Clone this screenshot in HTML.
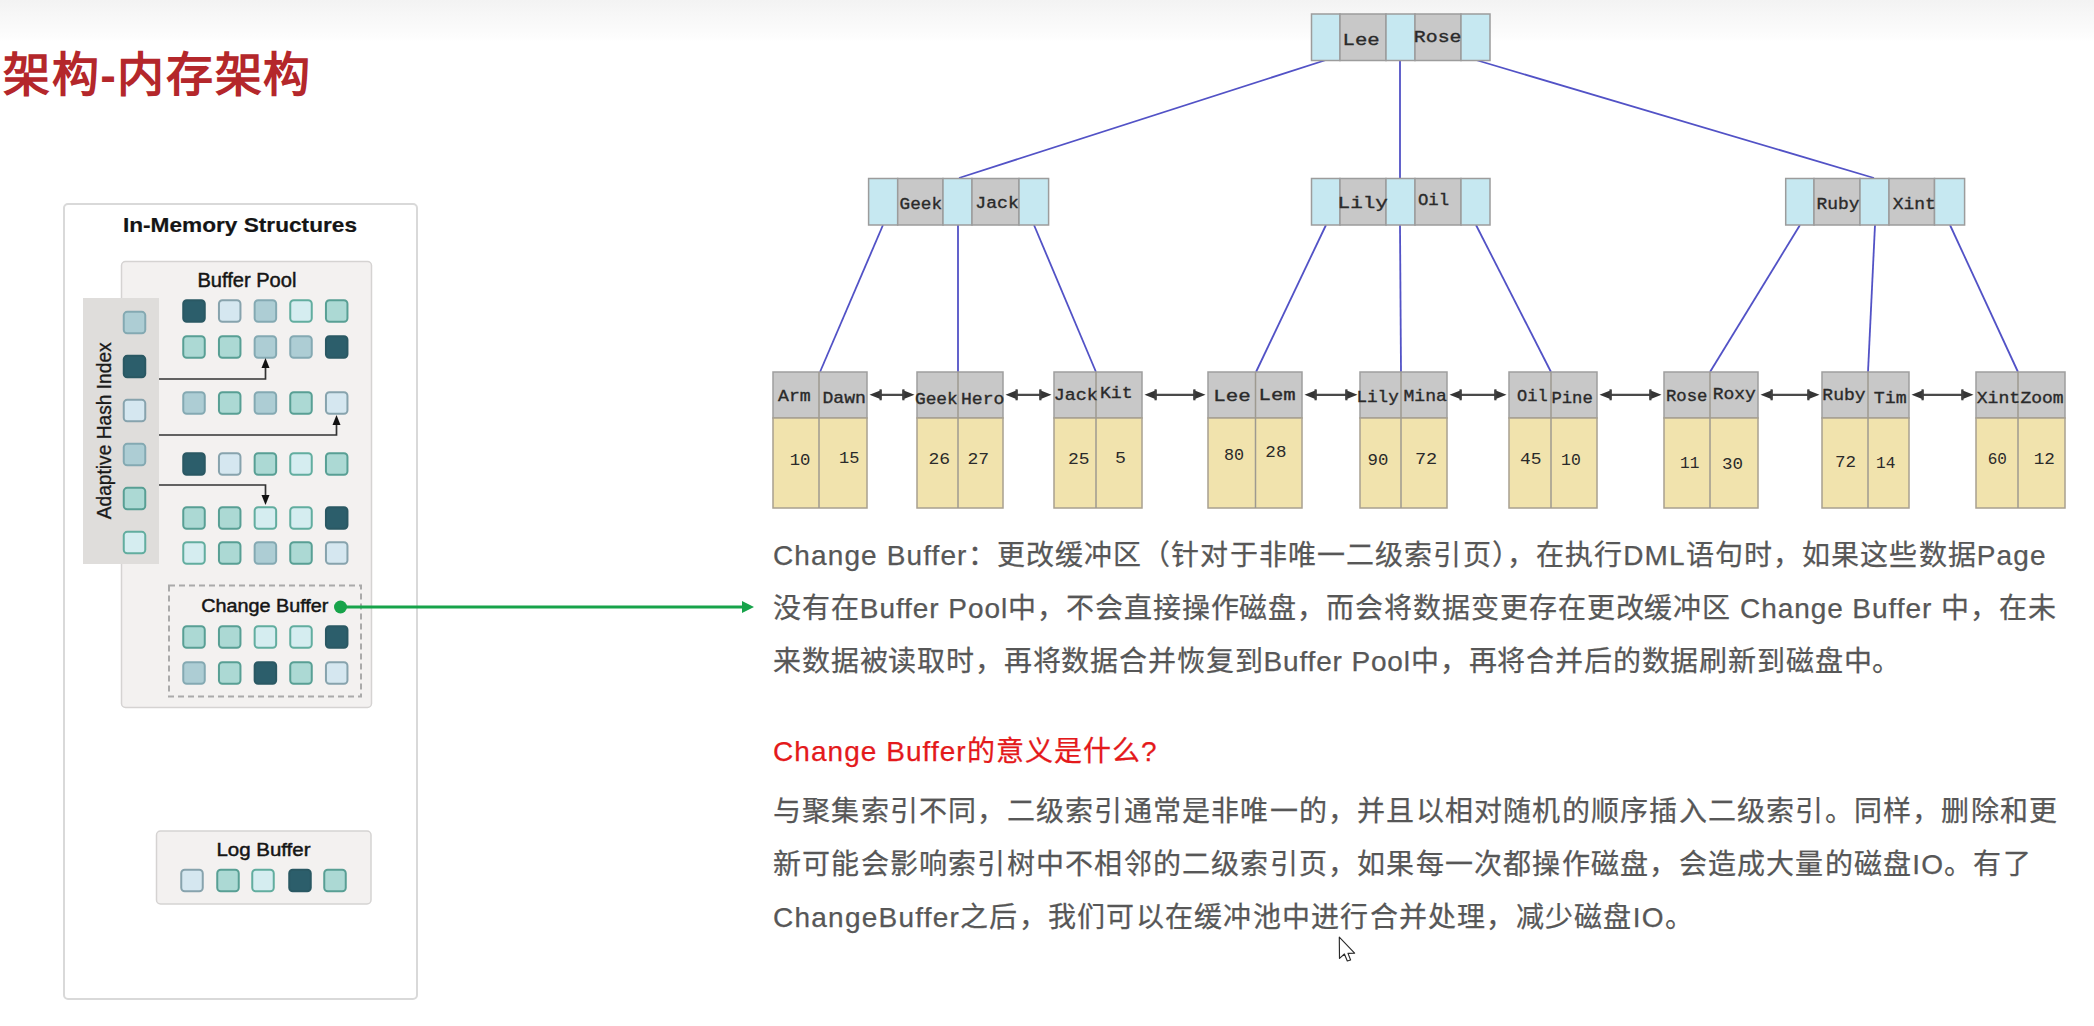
<!DOCTYPE html>
<html lang="zh-CN"><head><meta charset="utf-8"><title>架构-内存架构</title>
<style>
html,body{margin:0;padding:0;background:#fff;}
body{width:2094px;height:1026px;position:relative;overflow:hidden;font-family:"Liberation Sans",sans-serif;}
.topbar{position:absolute;left:0;top:0;width:2094px;height:42px;background:linear-gradient(#f3f3f3,#fdfdfd 90%,#ffffff);}
.title{position:absolute;left:3px;top:42.5px;letter-spacing:1.58px;font-size:47px;font-weight:bold;color:#b4272b;line-height:64px;white-space:nowrap;}
.ln{position:absolute;left:773px;font-size:28px;line-height:40px;color:#575757;white-space:nowrap;-webkit-text-stroke-width:0.25px;}
.red{color:#e4191b;}
</style></head><body>
<div class="topbar"></div>
<div class="title">架构-内存架构</div>
<svg width="2094" height="1026" viewBox="0 0 2094 1026" style="position:absolute;left:0;top:0"><rect x="64" y="204" width="353" height="795" rx="4" fill="#ffffff" stroke="#d9d9d9" stroke-width="2"/><rect x="121.5" y="261.5" width="250" height="446" rx="4" fill="#f3f1f0" stroke="#d5d3d2" stroke-width="1.5"/><rect x="83" y="298" width="76" height="266" fill="#dfdddb"/><rect x="183.25" y="300.25" width="21.5" height="21.5" rx="3.5" fill="#2c5e6b" stroke="#2a5863" stroke-width="2"/><rect x="218.95" y="300.25" width="21.5" height="21.5" rx="3.5" fill="#d5e7f0" stroke="#87a3ad" stroke-width="2"/><rect x="254.65" y="300.25" width="21.5" height="21.5" rx="3.5" fill="#adcdd4" stroke="#84a9b2" stroke-width="2"/><rect x="290.25" y="300.25" width="21.5" height="21.5" rx="3.5" fill="#d5edf0" stroke="#62ad9f" stroke-width="2"/><rect x="325.95" y="300.25" width="21.5" height="21.5" rx="3.5" fill="#acd9d4" stroke="#589f94" stroke-width="2"/><rect x="183.25" y="336.25" width="21.5" height="21.5" rx="3.5" fill="#acd9d4" stroke="#589f94" stroke-width="2"/><rect x="218.95" y="336.25" width="21.5" height="21.5" rx="3.5" fill="#acd9d4" stroke="#589f94" stroke-width="2"/><rect x="254.65" y="336.25" width="21.5" height="21.5" rx="3.5" fill="#adcdd4" stroke="#84a9b2" stroke-width="2"/><rect x="290.25" y="336.25" width="21.5" height="21.5" rx="3.5" fill="#adcdd4" stroke="#84a9b2" stroke-width="2"/><rect x="325.95" y="336.25" width="21.5" height="21.5" rx="3.5" fill="#2c5e6b" stroke="#2a5863" stroke-width="2"/><rect x="183.25" y="392.25" width="21.5" height="21.5" rx="3.5" fill="#adcdd4" stroke="#84a9b2" stroke-width="2"/><rect x="218.95" y="392.25" width="21.5" height="21.5" rx="3.5" fill="#acd9d4" stroke="#589f94" stroke-width="2"/><rect x="254.65" y="392.25" width="21.5" height="21.5" rx="3.5" fill="#adcdd4" stroke="#84a9b2" stroke-width="2"/><rect x="290.25" y="392.25" width="21.5" height="21.5" rx="3.5" fill="#acd9d4" stroke="#589f94" stroke-width="2"/><rect x="325.95" y="392.25" width="21.5" height="21.5" rx="3.5" fill="#d5e7f0" stroke="#87a3ad" stroke-width="2"/><rect x="183.25" y="453.25" width="21.5" height="21.5" rx="3.5" fill="#2c5e6b" stroke="#2a5863" stroke-width="2"/><rect x="218.95" y="453.25" width="21.5" height="21.5" rx="3.5" fill="#d5e7f0" stroke="#87a3ad" stroke-width="2"/><rect x="254.65" y="453.25" width="21.5" height="21.5" rx="3.5" fill="#acd9d4" stroke="#589f94" stroke-width="2"/><rect x="290.25" y="453.25" width="21.5" height="21.5" rx="3.5" fill="#d5edf0" stroke="#62ad9f" stroke-width="2"/><rect x="325.95" y="453.25" width="21.5" height="21.5" rx="3.5" fill="#acd9d4" stroke="#589f94" stroke-width="2"/><rect x="183.25" y="507.25" width="21.5" height="21.5" rx="3.5" fill="#acd9d4" stroke="#589f94" stroke-width="2"/><rect x="218.95" y="507.25" width="21.5" height="21.5" rx="3.5" fill="#acd9d4" stroke="#589f94" stroke-width="2"/><rect x="254.65" y="507.25" width="21.5" height="21.5" rx="3.5" fill="#d5edf0" stroke="#62ad9f" stroke-width="2"/><rect x="290.25" y="507.25" width="21.5" height="21.5" rx="3.5" fill="#d5edf0" stroke="#62ad9f" stroke-width="2"/><rect x="325.95" y="507.25" width="21.5" height="21.5" rx="3.5" fill="#2c5e6b" stroke="#2a5863" stroke-width="2"/><rect x="183.25" y="542.25" width="21.5" height="21.5" rx="3.5" fill="#d5edf0" stroke="#62ad9f" stroke-width="2"/><rect x="218.95" y="542.25" width="21.5" height="21.5" rx="3.5" fill="#acd9d4" stroke="#589f94" stroke-width="2"/><rect x="254.65" y="542.25" width="21.5" height="21.5" rx="3.5" fill="#adcdd4" stroke="#84a9b2" stroke-width="2"/><rect x="290.25" y="542.25" width="21.5" height="21.5" rx="3.5" fill="#acd9d4" stroke="#589f94" stroke-width="2"/><rect x="325.95" y="542.25" width="21.5" height="21.5" rx="3.5" fill="#d5e7f0" stroke="#87a3ad" stroke-width="2"/><rect x="123.75" y="311.85" width="21.5" height="21.5" rx="3.5" fill="#adcdd4" stroke="#84a9b2" stroke-width="2"/><rect x="123.75" y="355.85" width="21.5" height="21.5" rx="3.5" fill="#2c5e6b" stroke="#2a5863" stroke-width="2"/><rect x="123.75" y="399.85" width="21.5" height="21.5" rx="3.5" fill="#d5e7f0" stroke="#87a3ad" stroke-width="2"/><rect x="123.75" y="443.85" width="21.5" height="21.5" rx="3.5" fill="#adcdd4" stroke="#84a9b2" stroke-width="2"/><rect x="123.75" y="487.85" width="21.5" height="21.5" rx="3.5" fill="#acd9d4" stroke="#589f94" stroke-width="2"/><rect x="123.75" y="531.85" width="21.5" height="21.5" rx="3.5" fill="#d5edf0" stroke="#62ad9f" stroke-width="2"/><path d="M159 379 H265.5 V362" fill="none" stroke="#333" stroke-width="1.7"/><path d="M265.5 358 l-4 10 h8 z" fill="#111"/><path d="M159 435 H336.5 V419" fill="none" stroke="#333" stroke-width="1.7"/><path d="M336.5 415 l-4 10 h8 z" fill="#111"/><path d="M159 485 H265.5 V500" fill="none" stroke="#333" stroke-width="1.7"/><path d="M265.5 505 l-4 -10 h8 z" fill="#111"/><rect x="169" y="585.5" width="192" height="111" fill="none" stroke="#aaa" stroke-width="2" stroke-dasharray="6 4"/><rect x="183.25" y="626.25" width="21.5" height="21.5" rx="3.5" fill="#acd9d4" stroke="#589f94" stroke-width="2"/><rect x="218.95" y="626.25" width="21.5" height="21.5" rx="3.5" fill="#acd9d4" stroke="#589f94" stroke-width="2"/><rect x="254.65" y="626.25" width="21.5" height="21.5" rx="3.5" fill="#d5edf0" stroke="#62ad9f" stroke-width="2"/><rect x="290.25" y="626.25" width="21.5" height="21.5" rx="3.5" fill="#d5edf0" stroke="#62ad9f" stroke-width="2"/><rect x="325.95" y="626.25" width="21.5" height="21.5" rx="3.5" fill="#2c5e6b" stroke="#2a5863" stroke-width="2"/><rect x="183.25" y="662.25" width="21.5" height="21.5" rx="3.5" fill="#adcdd4" stroke="#84a9b2" stroke-width="2"/><rect x="218.95" y="662.25" width="21.5" height="21.5" rx="3.5" fill="#acd9d4" stroke="#589f94" stroke-width="2"/><rect x="254.65" y="662.25" width="21.5" height="21.5" rx="3.5" fill="#2c5e6b" stroke="#2a5863" stroke-width="2"/><rect x="290.25" y="662.25" width="21.5" height="21.5" rx="3.5" fill="#acd9d4" stroke="#589f94" stroke-width="2"/><rect x="325.95" y="662.25" width="21.5" height="21.5" rx="3.5" fill="#d5e7f0" stroke="#87a3ad" stroke-width="2"/><line x1="340" y1="607" x2="744" y2="607" stroke="#17a34a" stroke-width="3"/><circle cx="340.5" cy="607" r="6.5" fill="#17a34a"/><path d="M754 607 l-12 -6 v12 z" fill="#17a34a"/><rect x="156.5" y="831" width="214.5" height="73" rx="4" fill="#f3f1f0" stroke="#d5d3d2" stroke-width="1.5"/><rect x="181.25" y="869.75" width="21.5" height="21.5" rx="3.5" fill="#d5e7f0" stroke="#87a3ad" stroke-width="2"/><rect x="217.25" y="869.75" width="21.5" height="21.5" rx="3.5" fill="#acd9d4" stroke="#589f94" stroke-width="2"/><rect x="252.25" y="869.75" width="21.5" height="21.5" rx="3.5" fill="#d5edf0" stroke="#62ad9f" stroke-width="2"/><rect x="289.25" y="869.75" width="21.5" height="21.5" rx="3.5" fill="#2c5e6b" stroke="#2a5863" stroke-width="2"/><rect x="324.25" y="869.75" width="21.5" height="21.5" rx="3.5" fill="#acd9d4" stroke="#589f94" stroke-width="2"/><text x="122.9" y="231.7" textLength="234.1" lengthAdjust="spacingAndGlyphs" font-family="Liberation Sans" font-size="21" font-weight="bold" fill="#151515" stroke="#151515" stroke-width="0.2">In-Memory Structures</text><text x="197.4" y="287.2" textLength="98.99999999999997" lengthAdjust="spacingAndGlyphs" font-family="Liberation Sans" font-size="19.5" fill="#151515" stroke="#151515" stroke-width="0.45">Buffer Pool</text><text x="201.2" y="612.3" textLength="127.19999999999999" lengthAdjust="spacingAndGlyphs" font-family="Liberation Sans" font-size="18" fill="#151515" stroke="#151515" stroke-width="0.45">Change Buffer</text><text x="216.4" y="856" textLength="94.1" lengthAdjust="spacingAndGlyphs" font-family="Liberation Sans" font-size="18" fill="#151515" stroke="#151515" stroke-width="0.45">Log Buffer</text><g transform="translate(110.7 519.3) rotate(-90)"><text x="0" y="0" textLength="177" lengthAdjust="spacingAndGlyphs" font-family="Liberation Sans" font-size="19.5" fill="#1a1a1a" stroke="#1a1a1a" stroke-width="0.3">Adaptive Hash Index</text></g><line x1="1326" y1="60" x2="959" y2="178" stroke="#5252c6" stroke-width="1.8"/><line x1="1400" y1="60" x2="1400" y2="178" stroke="#5252c6" stroke-width="1.8"/><line x1="1476" y1="60" x2="1874" y2="178" stroke="#5252c6" stroke-width="1.8"/><line x1="883" y1="225" x2="820" y2="372" stroke="#5252c6" stroke-width="1.8"/><line x1="958" y1="225" x2="958" y2="372" stroke="#5252c6" stroke-width="1.8"/><line x1="1034" y1="225" x2="1096" y2="372" stroke="#5252c6" stroke-width="1.8"/><line x1="1326" y1="225" x2="1256" y2="372" stroke="#5252c6" stroke-width="1.8"/><line x1="1400" y1="225" x2="1401" y2="372" stroke="#5252c6" stroke-width="1.8"/><line x1="1476" y1="225" x2="1551" y2="372" stroke="#5252c6" stroke-width="1.8"/><line x1="1800" y1="225" x2="1710" y2="372" stroke="#5252c6" stroke-width="1.8"/><line x1="1875" y1="225" x2="1868" y2="372" stroke="#5252c6" stroke-width="1.8"/><line x1="1950" y1="225" x2="2018" y2="372" stroke="#5252c6" stroke-width="1.8"/><rect x="1311.5" y="14" width="28.5" height="46.5" fill="#c6e8f1" stroke="#9c9c9c" stroke-width="1.5"/><rect x="1340" y="14" width="46.0" height="46.5" fill="#c8c8c8" stroke="#9c9c9c" stroke-width="1.5"/><rect x="1386" y="14" width="29.0" height="46.5" fill="#c6e8f1" stroke="#9c9c9c" stroke-width="1.5"/><rect x="1415" y="14" width="46.0" height="46.5" fill="#c8c8c8" stroke="#9c9c9c" stroke-width="1.5"/><rect x="1461" y="14" width="29.0" height="46.5" fill="#c6e8f1" stroke="#9c9c9c" stroke-width="1.5"/><rect x="868.6" y="178.5" width="29.1" height="46.5" fill="#c6e8f1" stroke="#9c9c9c" stroke-width="1.5"/><rect x="897.7" y="178.5" width="45.3" height="46.5" fill="#c8c8c8" stroke="#9c9c9c" stroke-width="1.5"/><rect x="943" y="178.5" width="29.0" height="46.5" fill="#c6e8f1" stroke="#9c9c9c" stroke-width="1.5"/><rect x="972" y="178.5" width="47.0" height="46.5" fill="#c8c8c8" stroke="#9c9c9c" stroke-width="1.5"/><rect x="1019" y="178.5" width="29.6" height="46.5" fill="#c6e8f1" stroke="#9c9c9c" stroke-width="1.5"/><rect x="1311.5" y="178.5" width="28.5" height="46.5" fill="#c6e8f1" stroke="#9c9c9c" stroke-width="1.5"/><rect x="1340" y="178.5" width="46.0" height="46.5" fill="#c8c8c8" stroke="#9c9c9c" stroke-width="1.5"/><rect x="1386" y="178.5" width="29.0" height="46.5" fill="#c6e8f1" stroke="#9c9c9c" stroke-width="1.5"/><rect x="1415" y="178.5" width="46.0" height="46.5" fill="#c8c8c8" stroke="#9c9c9c" stroke-width="1.5"/><rect x="1461" y="178.5" width="29.0" height="46.5" fill="#c6e8f1" stroke="#9c9c9c" stroke-width="1.5"/><rect x="1785.7" y="178.5" width="28.3" height="46.5" fill="#c6e8f1" stroke="#9c9c9c" stroke-width="1.5"/><rect x="1814" y="178.5" width="46.0" height="46.5" fill="#c8c8c8" stroke="#9c9c9c" stroke-width="1.5"/><rect x="1860" y="178.5" width="29.0" height="46.5" fill="#c6e8f1" stroke="#9c9c9c" stroke-width="1.5"/><rect x="1889" y="178.5" width="45.5" height="46.5" fill="#c8c8c8" stroke="#9c9c9c" stroke-width="1.5"/><rect x="1934.5" y="178.5" width="30.1" height="46.5" fill="#c6e8f1" stroke="#9c9c9c" stroke-width="1.5"/><rect x="773" y="372" width="94" height="46" fill="#c8c8c8" stroke="#9e9e9e" stroke-width="1.5"/><rect x="773" y="418" width="94" height="90" fill="#f1e3ad" stroke="#a8a090" stroke-width="1.5"/><line x1="819" y1="372" x2="819" y2="508" stroke="#9e9a90" stroke-width="1.5"/><rect x="917" y="372" width="86" height="46" fill="#c8c8c8" stroke="#9e9e9e" stroke-width="1.5"/><rect x="917" y="418" width="86" height="90" fill="#f1e3ad" stroke="#a8a090" stroke-width="1.5"/><line x1="958" y1="372" x2="958" y2="508" stroke="#9e9a90" stroke-width="1.5"/><rect x="1054" y="372" width="88" height="46" fill="#c8c8c8" stroke="#9e9e9e" stroke-width="1.5"/><rect x="1054" y="418" width="88" height="90" fill="#f1e3ad" stroke="#a8a090" stroke-width="1.5"/><line x1="1096" y1="372" x2="1096" y2="508" stroke="#9e9a90" stroke-width="1.5"/><rect x="1208" y="372" width="94" height="46" fill="#c8c8c8" stroke="#9e9e9e" stroke-width="1.5"/><rect x="1208" y="418" width="94" height="90" fill="#f1e3ad" stroke="#a8a090" stroke-width="1.5"/><line x1="1255.5" y1="372" x2="1255.5" y2="508" stroke="#9e9a90" stroke-width="1.5"/><rect x="1360" y="372" width="87" height="46" fill="#c8c8c8" stroke="#9e9e9e" stroke-width="1.5"/><rect x="1360" y="418" width="87" height="90" fill="#f1e3ad" stroke="#a8a090" stroke-width="1.5"/><line x1="1401" y1="372" x2="1401" y2="508" stroke="#9e9a90" stroke-width="1.5"/><rect x="1509" y="372" width="88" height="46" fill="#c8c8c8" stroke="#9e9e9e" stroke-width="1.5"/><rect x="1509" y="418" width="88" height="90" fill="#f1e3ad" stroke="#a8a090" stroke-width="1.5"/><line x1="1551" y1="372" x2="1551" y2="508" stroke="#9e9a90" stroke-width="1.5"/><rect x="1664" y="372" width="94" height="46" fill="#c8c8c8" stroke="#9e9e9e" stroke-width="1.5"/><rect x="1664" y="418" width="94" height="90" fill="#f1e3ad" stroke="#a8a090" stroke-width="1.5"/><line x1="1710" y1="372" x2="1710" y2="508" stroke="#9e9a90" stroke-width="1.5"/><rect x="1822" y="372" width="87" height="46" fill="#c8c8c8" stroke="#9e9e9e" stroke-width="1.5"/><rect x="1822" y="418" width="87" height="90" fill="#f1e3ad" stroke="#a8a090" stroke-width="1.5"/><line x1="1868" y1="372" x2="1868" y2="508" stroke="#9e9a90" stroke-width="1.5"/><rect x="1976" y="372" width="89" height="46" fill="#c8c8c8" stroke="#9e9e9e" stroke-width="1.5"/><rect x="1976" y="418" width="89" height="90" fill="#f1e3ad" stroke="#a8a090" stroke-width="1.5"/><line x1="2018" y1="372" x2="2018" y2="508" stroke="#9e9a90" stroke-width="1.5"/><line x1="875" y1="394.8" x2="909" y2="394.8" stroke="#4a4a4a" stroke-width="2.3"/><path d="M869.5 394.8 L881.5 390 V399.6 Z M914.5 394.8 L902.5 390 V399.6 Z" fill="#353535"/><rect x="879.5" y="389.3" width="2.2" height="11" fill="#404040"/><rect x="902.3" y="389.3" width="2.2" height="11" fill="#404040"/><line x1="1011" y1="394.8" x2="1046" y2="394.8" stroke="#4a4a4a" stroke-width="2.3"/><path d="M1005.5 394.8 L1017.5 390 V399.6 Z M1051.5 394.8 L1039.5 390 V399.6 Z" fill="#353535"/><rect x="1015.5" y="389.3" width="2.2" height="11" fill="#404040"/><rect x="1039.3" y="389.3" width="2.2" height="11" fill="#404040"/><line x1="1150" y1="394.8" x2="1200" y2="394.8" stroke="#4a4a4a" stroke-width="2.3"/><path d="M1144.5 394.8 L1156.5 390 V399.6 Z M1205.5 394.8 L1193.5 390 V399.6 Z" fill="#353535"/><rect x="1154.5" y="389.3" width="2.2" height="11" fill="#404040"/><rect x="1193.3" y="389.3" width="2.2" height="11" fill="#404040"/><line x1="1310" y1="394.8" x2="1352" y2="394.8" stroke="#4a4a4a" stroke-width="2.3"/><path d="M1304.5 394.8 L1316.5 390 V399.6 Z M1357.5 394.8 L1345.5 390 V399.6 Z" fill="#353535"/><rect x="1314.5" y="389.3" width="2.2" height="11" fill="#404040"/><rect x="1345.3" y="389.3" width="2.2" height="11" fill="#404040"/><line x1="1455" y1="394.8" x2="1501" y2="394.8" stroke="#4a4a4a" stroke-width="2.3"/><path d="M1449.5 394.8 L1461.5 390 V399.6 Z M1506.5 394.8 L1494.5 390 V399.6 Z" fill="#353535"/><rect x="1459.5" y="389.3" width="2.2" height="11" fill="#404040"/><rect x="1494.3" y="389.3" width="2.2" height="11" fill="#404040"/><line x1="1605" y1="394.8" x2="1656" y2="394.8" stroke="#4a4a4a" stroke-width="2.3"/><path d="M1599.5 394.8 L1611.5 390 V399.6 Z M1661.5 394.8 L1649.5 390 V399.6 Z" fill="#353535"/><rect x="1609.5" y="389.3" width="2.2" height="11" fill="#404040"/><rect x="1649.3" y="389.3" width="2.2" height="11" fill="#404040"/><line x1="1766" y1="394.8" x2="1814" y2="394.8" stroke="#4a4a4a" stroke-width="2.3"/><path d="M1760.5 394.8 L1772.5 390 V399.6 Z M1819.5 394.8 L1807.5 390 V399.6 Z" fill="#353535"/><rect x="1770.5" y="389.3" width="2.2" height="11" fill="#404040"/><rect x="1807.3" y="389.3" width="2.2" height="11" fill="#404040"/><line x1="1917" y1="394.8" x2="1968" y2="394.8" stroke="#4a4a4a" stroke-width="2.3"/><path d="M1911.5 394.8 L1923.5 390 V399.6 Z M1973.5 394.8 L1961.5 390 V399.6 Z" fill="#353535"/><rect x="1921.5" y="389.3" width="2.2" height="11" fill="#404040"/><rect x="1961.3" y="389.3" width="2.2" height="11" fill="#404040"/><text transform="translate(1342.57 45.10) scale(1.214 1)" font-family="Liberation Mono" font-size="17" fill="#2a2a2a" stroke="#2a2a2a" stroke-width="0.35">Lee</text><text transform="translate(1413.83 42.20) scale(1.167 1)" font-family="Liberation Mono" font-size="17" fill="#2a2a2a" stroke="#2a2a2a" stroke-width="0.35">Rose</text><text transform="translate(899.56 208.90) scale(1.041 1)" font-family="Liberation Mono" font-size="17" fill="#2a2a2a" stroke="#2a2a2a" stroke-width="0.35">Geek</text><text transform="translate(975.37 207.90) scale(1.066 1)" font-family="Liberation Mono" font-size="17" fill="#2a2a2a" stroke="#2a2a2a" stroke-width="0.35">Jack</text><text transform="translate(1337.53 207.90) scale(1.237 1)" font-family="Liberation Mono" font-size="17" fill="#2a2a2a" stroke="#2a2a2a" stroke-width="0.35">Lily</text><text transform="translate(1417.98 205.10) scale(1.017 1)" font-family="Liberation Mono" font-size="17" fill="#2a2a2a" stroke="#2a2a2a" stroke-width="0.35">Oil</text><text transform="translate(1816.45 208.90) scale(1.054 1)" font-family="Liberation Mono" font-size="17" fill="#2a2a2a" stroke="#2a2a2a" stroke-width="0.35">Ruby</text><text transform="translate(1892.84 208.90) scale(1.055 1)" font-family="Liberation Mono" font-size="17" fill="#2a2a2a" stroke="#2a2a2a" stroke-width="0.35">Xint</text><text transform="translate(778.00 401.20) scale(1.067 1)" font-family="Liberation Mono" font-size="17" fill="#2a2a2a" stroke="#2a2a2a" stroke-width="0.35">Arm</text><text transform="translate(822.43 402.60) scale(1.066 1)" font-family="Liberation Mono" font-size="17" fill="#2a2a2a" stroke="#2a2a2a" stroke-width="0.35">Dawn</text><text transform="translate(789.68 464.70) scale(1.016 1)" font-family="Liberation Mono" font-size="17" fill="#2a2a2a">10</text><text transform="translate(839.00 463.20) scale(1.000 1)" font-family="Liberation Mono" font-size="17" fill="#2a2a2a">15</text><text transform="translate(914.95 403.90) scale(1.051 1)" font-family="Liberation Mono" font-size="17" fill="#2a2a2a" stroke="#2a2a2a" stroke-width="0.35">Geek</text><text transform="translate(960.94 403.90) scale(1.064 1)" font-family="Liberation Mono" font-size="17" fill="#2a2a2a" stroke="#2a2a2a" stroke-width="0.35">Hero</text><text transform="translate(928.54 463.90) scale(1.061 1)" font-family="Liberation Mono" font-size="17" fill="#2a2a2a">26</text><text transform="translate(967.54 463.90) scale(1.061 1)" font-family="Liberation Mono" font-size="17" fill="#2a2a2a">27</text><text transform="translate(1053.84 400.00) scale(1.079 1)" font-family="Liberation Mono" font-size="17" fill="#2a2a2a" stroke="#2a2a2a" stroke-width="0.35">Jack</text><text transform="translate(1099.93 398.40) scale(1.071 1)" font-family="Liberation Mono" font-size="17" fill="#2a2a2a" stroke="#2a2a2a" stroke-width="0.35">Kit</text><text transform="translate(1067.94 463.90) scale(1.056 1)" font-family="Liberation Mono" font-size="17" fill="#2a2a2a">25</text><text transform="translate(1114.92 463.20) scale(1.075 1)" font-family="Liberation Mono" font-size="17" fill="#2a2a2a">5</text><text transform="translate(1213.25 401.10) scale(1.225 1)" font-family="Liberation Mono" font-size="17" fill="#2a2a2a" stroke="#2a2a2a" stroke-width="0.35">Lee</text><text transform="translate(1258.57 400.00) scale(1.214 1)" font-family="Liberation Mono" font-size="17" fill="#2a2a2a" stroke="#2a2a2a" stroke-width="0.35">Lem</text><text transform="translate(1224.01 460.00) scale(0.989 1)" font-family="Liberation Mono" font-size="17" fill="#2a2a2a">80</text><text transform="translate(1265.37 456.90) scale(1.033 1)" font-family="Liberation Mono" font-size="17" fill="#2a2a2a">28</text><text transform="translate(1356.42 402.20) scale(1.039 1)" font-family="Liberation Mono" font-size="17" fill="#2a2a2a" stroke="#2a2a2a" stroke-width="0.35">Lily</text><text transform="translate(1403.44 401.10) scale(1.064 1)" font-family="Liberation Mono" font-size="17" fill="#2a2a2a" stroke="#2a2a2a" stroke-width="0.35">Mina</text><text transform="translate(1367.58 464.70) scale(1.021 1)" font-family="Liberation Mono" font-size="17" fill="#2a2a2a">90</text><text transform="translate(1414.91 463.90) scale(1.094 1)" font-family="Liberation Mono" font-size="17" fill="#2a2a2a">72</text><text transform="translate(1517.00 401.00) scale(1.000 1)" font-family="Liberation Mono" font-size="17" fill="#2a2a2a" stroke="#2a2a2a" stroke-width="0.35">Oil</text><text transform="translate(1551.38 402.60) scale(1.015 1)" font-family="Liberation Mono" font-size="17" fill="#2a2a2a" stroke="#2a2a2a" stroke-width="0.35">Pine</text><text transform="translate(1519.94 463.90) scale(1.056 1)" font-family="Liberation Mono" font-size="17" fill="#2a2a2a">45</text><text transform="translate(1561.03 465.00) scale(0.968 1)" font-family="Liberation Mono" font-size="17" fill="#2a2a2a">10</text><text transform="translate(1665.98 401.00) scale(1.018 1)" font-family="Liberation Mono" font-size="17" fill="#2a2a2a" stroke="#2a2a2a" stroke-width="0.35">Rose</text><text transform="translate(1712.64 399.20) scale(1.059 1)" font-family="Liberation Mono" font-size="17" fill="#2a2a2a" stroke="#2a2a2a" stroke-width="0.35">Roxy</text><text transform="translate(1680.05 467.80) scale(0.947 1)" font-family="Liberation Mono" font-size="17" fill="#2a2a2a">11</text><text transform="translate(1721.97 468.60) scale(1.032 1)" font-family="Liberation Mono" font-size="17" fill="#2a2a2a">30</text><text transform="translate(1822.34 400.00) scale(1.059 1)" font-family="Liberation Mono" font-size="17" fill="#2a2a2a" stroke="#2a2a2a" stroke-width="0.35">Ruby</text><text transform="translate(1873.83 402.60) scale(1.072 1)" font-family="Liberation Mono" font-size="17" fill="#2a2a2a" stroke="#2a2a2a" stroke-width="0.35">Tim</text><text transform="translate(1834.97 467.00) scale(1.033 1)" font-family="Liberation Mono" font-size="17" fill="#2a2a2a">72</text><text transform="translate(1876.05 467.80) scale(0.947 1)" font-family="Liberation Mono" font-size="17" fill="#2a2a2a">14</text><text transform="translate(1976.73 402.60) scale(1.066 1)" font-family="Liberation Mono" font-size="17" fill="#2a2a2a" stroke="#2a2a2a" stroke-width="0.35">Xint</text><text transform="translate(2020.44 402.60) scale(1.059 1)" font-family="Liberation Mono" font-size="17" fill="#2a2a2a" stroke="#2a2a2a" stroke-width="0.35">Zoom</text><text transform="translate(1987.76 463.90) scale(0.942 1)" font-family="Liberation Mono" font-size="17" fill="#2a2a2a">60</text><text transform="translate(2033.66 463.90) scale(1.039 1)" font-family="Liberation Mono" font-size="17" fill="#2a2a2a">12</text><path d="M1339.3 937.2 L1339.5 958.4 L1344.4 954 L1347.3 961 L1350.6 960 L1348 953.4 L1354.6 953.2 Z" fill="#fff" stroke="#2a2a2a" stroke-width="1.15" stroke-linejoin="round"/></svg>
<div class="ln" style="top:536px;letter-spacing:1.115px">Change Buffer：更改缓冲区（针对于非唯一二级索引页），在执行DML语句时，如果这些数据Page</div>
<div class="ln" style="top:589px;letter-spacing:0.93px">没有在Buffer Pool中，不会直接操作磁盘，而会将数据变更存在更改缓冲区 Change Buffer 中，在未</div>
<div class="ln" style="top:642px;letter-spacing:0.85px">来数据被读取时，再将数据合并恢复到Buffer Pool中，再将合并后的数据刷新到磁盘中。</div>
<div class="ln red" style="top:732px;letter-spacing:1.05px">Change Buffer的意义是什么?</div>
<div class="ln" style="top:792px;letter-spacing:1.21px">与聚集索引不同，二级索引通常是非唯一的，并且以相对随机的顺序插入二级索引。同样，删除和更</div>
<div class="ln" style="top:845px;letter-spacing:1.21px">新可能会影响索引树中不相邻的二级索引页，如果每一次都操作磁盘，会造成大量的磁盘IO。有了</div>
<div class="ln" style="top:898px;letter-spacing:1.24px">ChangeBuffer之后，我们可以在缓冲池中进行合并处理，减少磁盘IO。</div>

</body></html>
